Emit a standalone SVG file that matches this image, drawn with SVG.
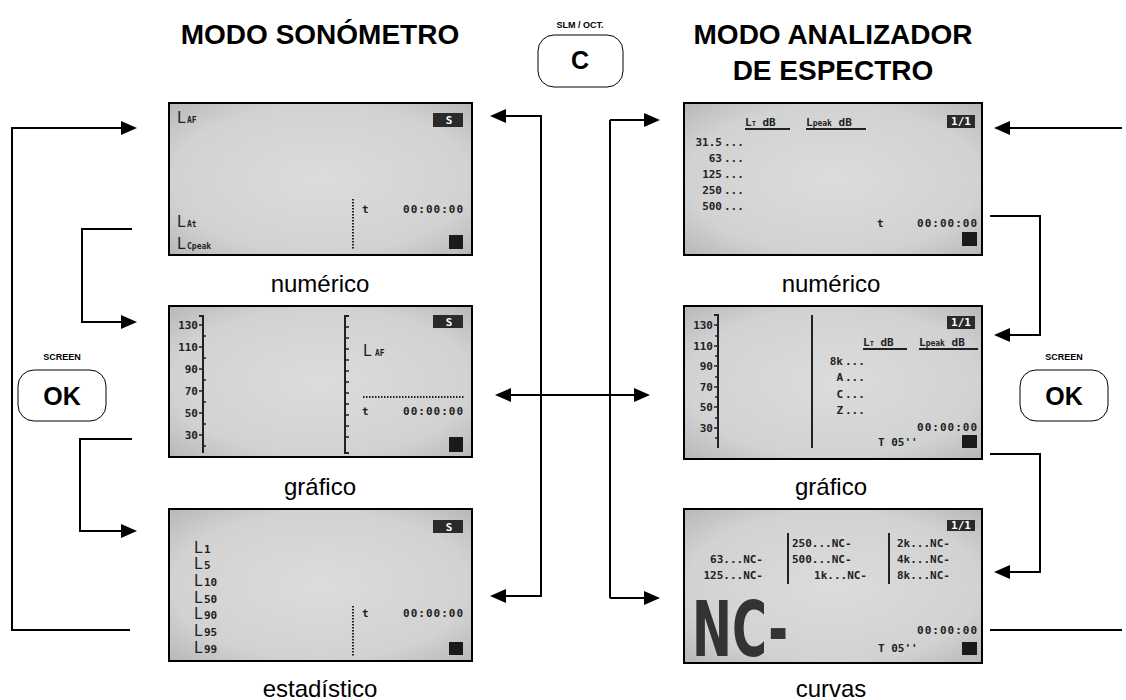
<svg xmlns="http://www.w3.org/2000/svg" width="1126" height="700" viewBox="0 0 1126 700">
<defs>
<radialGradient id="lcdg" cx="50%" cy="50%" r="70%">
<stop offset="0" stop-color="#dcdcdc"/>
<stop offset="0.7" stop-color="#d2d2d2"/>
<stop offset="1" stop-color="#b8b8b8"/>
</radialGradient>
<marker id="ah" markerUnits="userSpaceOnUse" markerWidth="16" markerHeight="14" refX="14" refY="7" orient="auto-start-reverse">
<path d="M0,0 L16,7 L0,14 z" fill="#000"/>
</marker>
<style>
.lcd{fill:url(#lcdg);stroke:#000;stroke-width:2}
.d{font-family:"DejaVu Sans Mono",monospace;font-weight:bold;fill:#222;font-size:11px}
.L{font-family:"DejaVu Sans",sans-serif;font-size:15px;fill:#222}
.sub{font-family:"DejaVu Sans Mono",monospace;font-size:8px;fill:#222;font-weight:bold}
.lbl{font-family:"Liberation Sans",Arial,sans-serif;font-size:24px;fill:#000;text-anchor:middle}
.title{font-family:"Liberation Sans",Arial,sans-serif;font-weight:bold;font-size:28px;fill:#000;text-anchor:middle}
.btn{fill:#fff;stroke:#000;stroke-width:1}
.btxt{font-family:"Liberation Sans",Arial,sans-serif;font-weight:bold;fill:#000;text-anchor:middle}
.conn{fill:none;stroke:#000;stroke-width:2}
.dot{stroke:#222;stroke-width:2;stroke-dasharray:1.5 1.5}
.ax{stroke:#222;stroke-width:2;fill:none}
.tk{stroke:#222;stroke-width:1.5}
.badge{fill:#2a2a2a}
.bt{font-family:"DejaVu Sans Mono",monospace;font-weight:bold;font-size:11px;fill:#fff;text-anchor:middle}
.sq{fill:#1a1a1a}
.ul{stroke:#222;stroke-width:2}
</style>
</defs>

<g id="titles">
<text class="title" x="320" y="44">MODO SONÓMETRO</text>
<text class="title" x="833" y="44">MODO ANALIZADOR</text>
<text class="title" x="833" y="80">DE ESPECTRO</text>
</g>

<g id="btn-c">
<text class="btxt" x="580" y="28" font-size="9">SLM / OCT.</text>
<rect class="btn" x="538" y="35" width="85" height="52" rx="16"/>
<text class="btxt" x="580" y="69" font-size="25">C</text>
</g>

<g id="btn-ok-left">
<text class="btxt" x="62" y="360" font-size="9">SCREEN</text>
<rect class="btn" x="18" y="370" width="88" height="51" rx="16"/>
<text class="btxt" x="62" y="405" font-size="25">OK</text>
</g>

<g id="btn-ok-right">
<text class="btxt" x="1064" y="360" font-size="9">SCREEN</text>
<rect class="btn" x="1020" y="370" width="88" height="51" rx="16"/>
<text class="btxt" x="1064" y="405" font-size="25">OK</text>
</g>

<g id="connectors">
<path class="conn" d="M130,630 H12 V128 H135" marker-end="url(#ah)"/>
<path class="conn" d="M132,229 H82 V322 H135" marker-end="url(#ah)"/>
<path class="conn" d="M132,439 H80 V531 H135" marker-end="url(#ah)"/>
<path class="conn" d="M492,116 H541 V596 H492" marker-start="url(#ah)" marker-end="url(#ah)"/>
<path class="conn" d="M610,120 V598" />
<path class="conn" d="M610,120 H658" marker-end="url(#ah)"/>
<path class="conn" d="M610,598 H658" marker-end="url(#ah)"/>
<path class="conn" d="M497,395 H648" marker-start="url(#ah)" marker-end="url(#ah)"/>
<path class="conn" d="M1122,128 H996" marker-end="url(#ah)"/>
<path class="conn" d="M990,216 H1040 V335 H996" marker-end="url(#ah)"/>
<path class="conn" d="M990,454 H1040 V572 H996" marker-end="url(#ah)"/>
<path class="conn" d="M990,630 H1122"/>
</g>

<g id="slm-numerico">
<rect class="lcd" x="169" y="103" width="303" height="152"/>
<text class="L" x="177" y="123">L</text><text class="sub" x="187" y="123">AF</text>
<rect class="badge" x="433" y="113" width="30" height="14"/><text class="bt" x="449" y="124">S</text>
<line class="dot" x1="353" y1="199" x2="353" y2="249"/>
<text class="d" x="362" y="213">t</text>
<text class="d" x="403" y="213" textLength="60">00:00:00</text>
<text class="L" x="177" y="227">L</text><text class="sub" x="187" y="227">At</text>
<text class="L" x="177" y="249">L</text><text class="sub" x="187" y="249">Cpeak</text>
<rect class="sq" x="449" y="235" width="14" height="14"/>
<text class="lbl" x="320" y="292">numérico</text>
</g>

<g id="slm-grafico">
<rect class="lcd" x="169" y="306" width="303" height="151"/>
<g class="d" text-anchor="end">
<text x="198" y="329">130</text><text x="198" y="351">110</text><text x="198" y="373">90</text>
<text x="198" y="395">70</text><text x="198" y="417">50</text><text x="198" y="439">30</text>
</g>
<path class="ax" d="M199,316 H203 V453"/>
<path class="tk" d="M199,325 H203 M199,347 H203 M199,369 H203 M199,391 H203 M199,413 H203 M199,435 H203 M203,336 H206 M203,358 H206 M203,380 H206 M203,402 H206 M203,424 H206 M203,446 H206"/>
<path class="ax" d="M349,316 H345 V453 H349"/>
<path class="tk" d="M345,327 H349 M345,338 H349 M345,349 H349 M345,360 H349 M345,371 H349 M345,382 H349 M345,393 H349 M345,404 H349 M345,415 H349 M345,426 H349 M345,437 H349"/>
<rect class="badge" x="433" y="315" width="30" height="13"/><text class="bt" x="449" y="326">S</text>
<text class="L" x="363" y="356" font-size="18">L</text><text class="sub" x="375" y="356" font-size="9">AF</text>
<line class="dot" x1="363" y1="397" x2="464" y2="397"/>
<text class="d" x="362" y="415">t</text>
<text class="d" x="403" y="415" textLength="60">00:00:00</text>
<rect class="sq" x="449" y="437" width="14" height="15"/>
<text class="lbl" x="320" y="495">gráfico</text>
</g>

<g id="slm-estadistico">
<rect class="lcd" x="169" y="509" width="303" height="152"/>
<rect class="badge" x="433" y="520" width="30" height="13"/><text class="bt" x="449" y="531">S</text>
<g class="L"><text x="194" y="553">L</text><text x="194" y="569">L</text><text x="194" y="586">L</text><text x="194" y="603">L</text><text x="194" y="619">L</text><text x="194" y="636">L</text><text x="194" y="653">L</text></g>
<g class="d" font-size="10">
<text x="204" y="553">1</text><text x="204" y="569">5</text><text x="204" y="586">10</text><text x="204" y="603">50</text><text x="204" y="619">90</text><text x="204" y="636">95</text><text x="204" y="653">99</text>
</g>
<line class="dot" x1="353" y1="606" x2="353" y2="656"/>
<text class="d" x="362" y="617">t</text>
<text class="d" x="403" y="617" textLength="60">00:00:00</text>
<rect class="sq" x="449" y="642" width="14" height="13"/>
<text class="lbl" x="320" y="697">estadístico</text>
</g>

<g id="oct-numerico">
<rect class="lcd" x="684" y="103" width="298" height="152"/>
<text class="d" x="745" y="126">L<tspan font-size="7">T</tspan> dB</text>
<line class="ul" x1="745" y1="129" x2="790" y2="129"/>
<text class="d" x="806" y="126">L<tspan font-size="8">peak</tspan> dB</text>
<line class="ul" x1="806" y1="129" x2="866" y2="129"/>
<rect class="badge" x="947" y="115" width="28" height="13" fill="#111"/><text class="bt" x="961" y="125" font-size="10">1/1</text>
<g class="d" text-anchor="end">
<text x="722" y="146">31.5</text><text x="722" y="162">63</text><text x="722" y="178">125</text><text x="722" y="194">250</text><text x="722" y="210">500</text>
</g>
<g class="d" font-size="9">
<text x="724" y="146">...</text><text x="724" y="162">...</text><text x="724" y="178">...</text><text x="724" y="194">...</text><text x="724" y="210">...</text>
</g>
<text class="d" x="877" y="227">t</text>
<text class="d" x="917" y="227" textLength="60">00:00:00</text>
<rect class="sq" x="962" y="232" width="15" height="14"/>
<text class="lbl" x="831" y="292">numérico</text>
</g>

<g id="oct-grafico">
<rect class="lcd" x="684" y="306" width="298" height="153"/>
<g class="d" text-anchor="end">
<text x="713" y="329">130</text><text x="713" y="350">110</text><text x="713" y="370">90</text>
<text x="713" y="391">70</text><text x="713" y="411">50</text><text x="713" y="432">30</text>
</g>
<path class="ax" d="M714,315 H718 V448"/>
<path class="tk" d="M714,325 H718 M714,346 H718 M714,366 H718 M714,387 H718 M714,407 H718 M714,428 H718 M715,336 H718 M715,356 H718 M715,377 H718 M715,397 H718 M715,418 H718 M715,438 H718"/>
<line class="ax" x1="812" y1="315" x2="812" y2="448"/>
<rect class="badge" x="947" y="316" width="28" height="13" fill="#111"/><text class="bt" x="961" y="326" font-size="10">1/1</text>
<text class="d" x="863" y="346">L<tspan font-size="7">T</tspan> dB</text>
<line class="ul" x1="863" y1="349" x2="907" y2="349"/>
<text class="d" x="919" y="346">L<tspan font-size="8">peak</tspan> dB</text>
<line class="ul" x1="919" y1="349" x2="978" y2="349"/>
<g class="d" text-anchor="end">
<text x="843" y="365">8k</text><text x="843" y="381">A</text><text x="843" y="398">C</text><text x="843" y="414">Z</text>
</g>
<g class="d" font-size="9">
<text x="845" y="365">...</text><text x="845" y="381">...</text><text x="845" y="398">...</text><text x="845" y="414">...</text>
</g>
<text class="d" x="917" y="431" textLength="60">00:00:00</text>
<text class="d" x="878" y="446">T 05''</text>
<rect class="sq" x="962" y="435" width="15" height="13"/>
<text class="lbl" x="831" y="495">gráfico</text>
</g>

<g id="oct-curvas">
<rect class="lcd" x="684" y="509" width="298" height="154" stroke-width="3"/>
<rect class="badge" x="947" y="520" width="28" height="11" fill="#333"/><text class="bt" x="961" y="529" font-size="9">1/1</text>
<line class="ax" x1="788" y1="533" x2="788" y2="584"/>
<line class="ax" x1="889" y1="533" x2="889" y2="584"/>
<g class="d" font-size="10">
<text x="763" y="563" text-anchor="end">63...NC-</text>
<text x="763" y="579" text-anchor="end">125...NC-</text>
<text x="792" y="547">250...NC-</text>
<text x="792" y="563">500...NC-</text>
<text x="867" y="579" text-anchor="end">1k...NC-</text>
<text x="897" y="547">2k...NC-</text>
<text x="897" y="563">4k...NC-</text>
<text x="897" y="579">8k...NC-</text>
</g>
<text x="692" y="656" font-family="DejaVu Sans Condensed, DejaVu Sans, sans-serif" font-weight="bold" font-size="77" fill="#333" textLength="96" lengthAdjust="spacingAndGlyphs">NC-</text>
<text class="d" x="917" y="634" textLength="60">00:00:00</text>
<text class="d" x="878" y="652">T 05''</text>
<rect class="sq" x="962" y="642" width="15" height="13" fill="#555"/>
<text class="lbl" x="831" y="697">curvas</text>
</g>
</svg>
